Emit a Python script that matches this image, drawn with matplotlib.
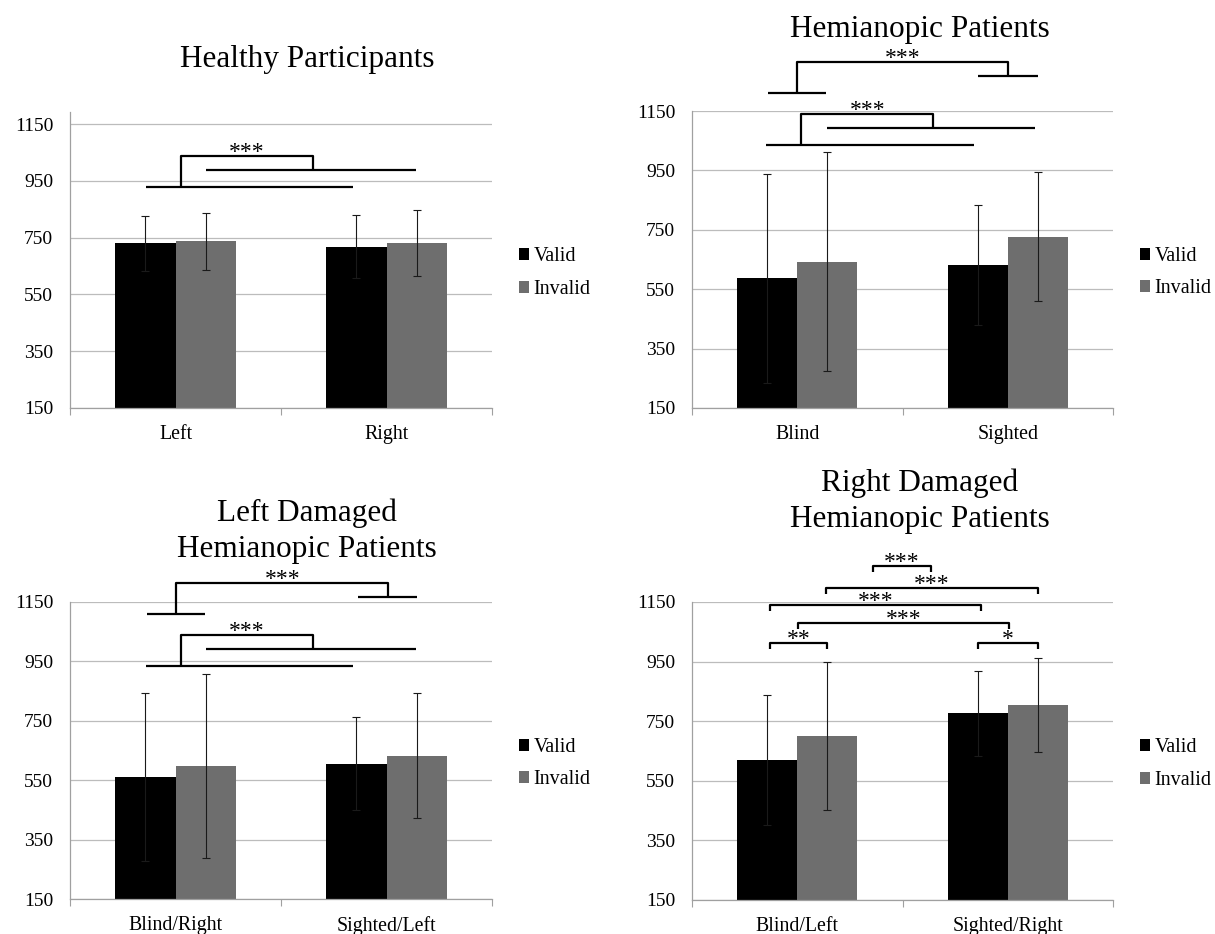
import matplotlib.pyplot as plt
from matplotlib.patches import Patch

plt.rcParams['font.family'] = ['Liberation Serif', 'DejaVu Serif']

W, H = 1215, 934

conditions = ['Valid', 'Invalid']
bar_colors = ['#000000', '#6e6e6e']
yticks = [150, 350, 550, 750, 950, 1150]

# mean RT and SD per visual field
healthy_fields = ['Left', 'Right']
healthy_valid = [730, 719]
healthy_invalid = [737, 732]
healthy_valid_sd = [96, 111]
healthy_invalid_sd = [99, 117]

hemi_fields = ['Blind', 'Sighted']
hemi_valid = [587, 632]
hemi_invalid = [643, 727]
hemi_valid_sd = [352, 201]
hemi_invalid_sd = [368, 217]

left_fields = ['Blind/Right', 'Sighted/Left']
left_valid = [562, 606]
left_invalid = [598, 633]
left_valid_sd = [283, 158]
left_invalid_sd = [311, 211]

right_fields = ['Blind/Left', 'Sighted/Right']
right_valid = [620, 777]
right_invalid = [700, 803]
right_valid_sd = [219, 143]
right_invalid_sd = [248, 158]

# main-effect brackets: (line a, line b, top y, drop x a, drop x b, label)
healthy_sig = [((-0.14, 0.84, 928), (0.145, 1.14, 989), 1038, 0.025, 0.653, '***')]
hemi_sig = [((-0.137, 0.137, 1209), (0.857, 1.142, 1267), 1314, -0.003, 1.003, '***'),
            ((-0.148, 0.84, 1036), (0.142, 1.13, 1094), 1139, 0.02, 0.645, '***')]
left_sig = [((-0.134, 0.139, 1109), (0.866, 1.145, 1167), 1215, 0.003, 1.008, '***'),
            ((-0.14, 0.84, 936), (0.145, 1.14, 993), 1040, 0.025, 0.653, '***')]
# pairwise brackets: (x start, x end, y, label)
right_sig = [(-0.131, 0.142, 1012, '**'), (0.858, 1.142, 1012, '*'),
             (0.003, 1.008, 1079, '***'), (-0.131, 0.875, 1141, '***'),
             (0.137, 1.142, 1197, '***'), (0.36, 0.634, 1270, '***')]

BAR_W = 0.285
LINE_KW = dict(color='black', lw=1.6, clip_on=False, solid_capstyle='butt')
STAR_KW = dict(ha='center', va='baseline', fontsize=17, xytext=(0, -1.5),
               textcoords='offset points', annotation_clip=False)


def add_panel(fig, box, fields, valid, invalid, valid_sd, invalid_sd, ytop):
    x0, y0, x1, y1 = box
    ax = fig.add_axes([x0 / W, 1 - y1 / H, (x1 - x0) / W, (y1 - y0) / H])
    pos = range(len(fields))
    for i, (vals, sd) in enumerate([(valid, valid_sd), (invalid, invalid_sd)]):
        xs = [p + (i - 0.5) * BAR_W for p in pos]
        ax.bar(xs, vals, width=BAR_W, bottom=0, color=bar_colors[i],
               label=conditions[i], zorder=2)
        ax.errorbar(xs, vals, yerr=sd, fmt='none', ecolor='#1a1a1a',
                    elinewidth=0.8, capsize=3, capthick=0.8, zorder=3)

    ax.set_xlim(-0.5, len(fields) - 0.5)
    ax.set_ylim(150, ytop)
    ax.set_yticks(yticks)
    ax.set_xticks(list(pos))
    ax.set_xticklabels(fields)
    ax.set_xticks([-0.5, 0.5, 1.5], minor=True)
    ax.tick_params(axis='x', which='major', length=0, pad=12, labelsize=14.3)
    ax.tick_params(axis='x', which='minor', length=5, color='#a0a0a0', width=0.8)
    ax.tick_params(axis='y', length=0, pad=12, labelsize=14)
    ax.yaxis.grid(True, color='#bcbcbc', lw=0.9, zorder=0)
    ax.set_axisbelow(True)
    for side in ['top', 'right']:
        ax.spines[side].set_visible(False)
    for side in ['left', 'bottom']:
        ax.spines[side].set_color('#a0a0a0')
        ax.spines[side].set_linewidth(0.9)

    handles = [Patch(facecolor=c, edgecolor='none') for c in bar_colors]
    ax.legend(handles, conditions, loc='center left',
              bbox_to_anchor=(1.064, 0.456), frameon=False, fontsize=14.5,
              handlelength=0.52, handleheight=0.55, handletextpad=0.2,
              labelspacing=0.67, borderpad=0, borderaxespad=0)
    return ax


def main_effect(ax, sig):
    for a, b, top, xa, xb, label in sig:
        ax.plot([a[0], a[1]], [a[2], a[2]], **LINE_KW)
        ax.plot([b[0], b[1]], [b[2], b[2]], **LINE_KW)
        ax.plot([xa, xa, xb, xb], [a[2], top, top, b[2]], **LINE_KW)
        ax.annotate(label, ((xa + xb) / 2, top), **STAR_KW)


def pairwise(ax, sig, tick=20):
    for xs, xe, y, label in sig:
        ax.plot([xs, xs, xe, xe], [y - tick, y, y, y - tick], **LINE_KW)
        ax.annotate(label, ((xs + xe) / 2, y), **STAR_KW)


def add_title(fig, x, ys, text):
    for y, line in zip(ys, text.split('\n')):
        fig.text(x / W, 1 - y / H, line, ha='center', va='center', fontsize=22.5)


def main():
    fig = plt.figure(figsize=(W / 100, H / 100), dpi=100)

    ax1 = add_panel(fig, (70, 112, 492, 408), healthy_fields, healthy_valid,
                    healthy_invalid, healthy_valid_sd, healthy_invalid_sd, 1193)
    main_effect(ax1, healthy_sig)

    ax2 = add_panel(fig, (692, 111, 1113, 408), hemi_fields, hemi_valid,
                    hemi_invalid, hemi_valid_sd, hemi_invalid_sd, 1150)
    main_effect(ax2, hemi_sig)

    ax3 = add_panel(fig, (70, 602, 492, 899), left_fields, left_valid,
                    left_invalid, left_valid_sd, left_invalid_sd, 1150)
    main_effect(ax3, left_sig)

    ax4 = add_panel(fig, (692, 602, 1113, 900), right_fields, right_valid,
                    right_invalid, right_valid_sd, right_invalid_sd, 1150)
    pairwise(ax4, right_sig)

    add_title(fig, 307, [60], 'Healthy Participants')
    add_title(fig, 920, [29], 'Hemianopic Patients')
    add_title(fig, 307, [513, 550], 'Left Damaged\nHemianopic Patients')
    add_title(fig, 920, [483, 520], 'Right Damaged\nHemianopic Patients')

    fig.savefig('out.png', dpi=100, facecolor='white')


if __name__ == "__main__":
    main()
